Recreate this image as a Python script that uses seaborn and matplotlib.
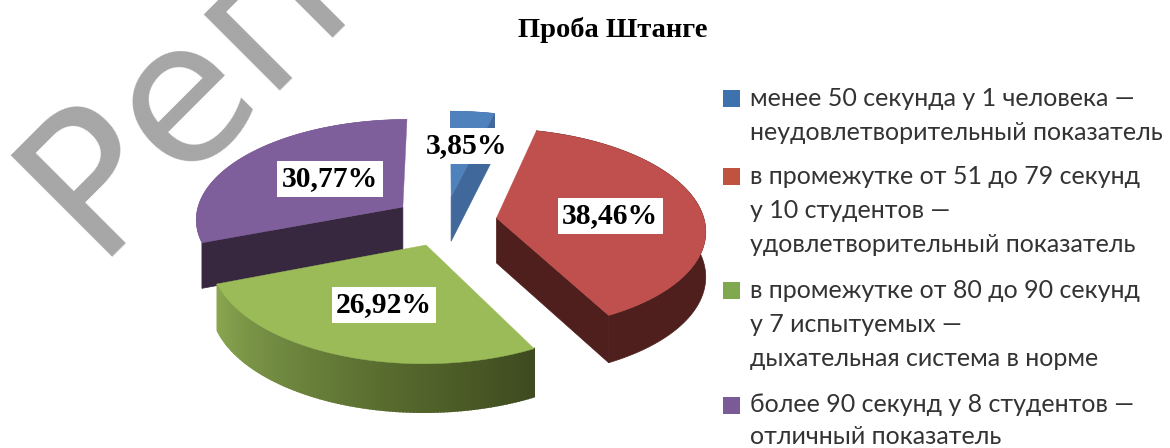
import numpy as np
import matplotlib
matplotlib.use("Agg")
import matplotlib.pyplot as plt
from matplotlib.patches import Rectangle
import seaborn as sns

# Values
title = "Проба Штанге"
shares = [3.85, 38.46, 26.92, 30.77]
explode = [0.25, 0.25, 0.25, 0.25]
top_colors = ["#4f81bd", "#c0504d", "#9bbb59", "#7f5f9b"]
cut_colors = ["#41689a", "#4e1f1d", "#3e4a20", "#372840"]
wall_colors = [["#41689a"], ["#4e1f1d"], ["#8ba750", "#6f8840", "#55672c", "#3d4a1f"], ["#7a5d96"]]
swatch_colors = ["#3d72ae", "#c0533f", "#7fa84f", "#7a5a97"]
legend_lines = [
    ["менее 50 секунда у 1 человека —", "неудовлетворительный показатель"],
    ["в промежутке от 51 до 79 секунд", "у 10 студентов —", "удовлетворительный показатель"],
    ["в промежутке от 80 до 90 секунд", "у 7 испытуемых —", "дыхательная система в норме"],
    ["более 90 секунд у 8 студентов —", "отличный показатель"],
]
watermark = "Репозиторий"

sns.set_style("white")
plt.rcParams["font.family"] = ["Lato", "Open Sans", "DejaVu Sans"]

fig = plt.figure(figsize=(11.7, 4.48), dpi=100)
ax = fig.add_axes([0, 0, 1, 1])
wedges, _ = ax.pie(shares, explode=explode, startangle=90, counterclock=False, radius=1)

# pie gives the wedge geometry, the tilted view is projected from it
ax.set_aspect("auto")
ax.set_xlim(0, 1170)
ax.set_ylim(448, 0)
ax.set_axis_off()


def project(x, y):
    w = 1 + 0.11 * y
    return 445 + 208 * x / w, 221 - 100 * y / w, 45 / np.sqrt(w)


def arc(wedge):
    t = np.radians(np.linspace(wedge.theta1, wedge.theta2, 120))
    return wedge.center[0] + wedge.r * np.cos(t), wedge.center[1] + wedge.r * np.sin(t)


order = [0, 3, 1, 2]
for i in order:
    wedge = wedges[i]
    wedge.remove()
    arc_x, arc_y = arc(wedge)
    px, py, depth = project(arc_x, arc_y)
    qx, qy, qd = project(np.array([wedge.center[0]]), np.array([wedge.center[1]]))

    # outer wall, shaded along the arc
    if len(wall_colors[i]) > 1:
        shades = sns.blend_palette(wall_colors[i], n_colors=len(px))
        for k in range(len(px) - 1):
            ax.fill([px[k], px[k + 1], px[k + 1], px[k]],
                    [py[k], py[k + 1], py[k + 1] + depth[k + 1], py[k] + depth[k]],
                    color=shades[k], lw=1.2)
    elif i == 3:
        # purple only shows a thin strip down to its corner
        ax.fill(np.r_[px, px[-1]], np.r_[py, py[-1] + depth[-1]], color=wall_colors[i][0], lw=0.5)
    else:
        ax.fill(np.r_[px, px[::-1]], np.r_[py, (py + depth)[::-1]], color=wall_colors[i][0], lw=0.5)

    # cut faces, only the ones turned to the viewer
    for k, normal in ((0, wedge.theta1 - 90), (-1, wedge.theta2 + 90)):
        if np.sin(np.radians(normal)) < -0.01:
            ax.fill([qx[0], px[k], px[k], qx[0]],
                    [qy[0], py[k], py[k] + depth[k], qy[0] + qd[0]],
                    color=cut_colors[i], lw=0.5)

    # top face
    ax.fill(np.r_[qx, px], np.r_[qy, py], color=top_colors[i], lw=0.3)

# value labels
label_xy = [(467, 146), (610, 216), (384, 305), (330, 179)]
for v, (x, y) in zip(shares, label_xy):
    ax.text(x, y, f"{v:.2f}".replace(".", ",") + "%", ha="center", va="center",
            family="Liberation Serif", weight="bold", fontsize=21.3, color="black",
            bbox=dict(boxstyle="square,pad=0.15", fc="white", ec="none"), zorder=5)

ax.text(612.5, 30, title, ha="center", va="center", family="Liberation Serif",
        weight="bold", fontsize=20.5, color="black")

# legend, line by line
line_y = [[98, 133], [176, 210, 245], [290, 324, 358], [405, 437]]
for color, lines, ys in zip(swatch_colors, legend_lines, line_y):
    ax.add_patch(Rectangle((723, ys[0] - 8), 17, 17, fc=color, ec="none"))
    for text, y in zip(lines, ys):
        ax.text(750, y, text, ha="left", va="center", fontsize=18, color="#333333")

# watermark runs off the top edge
ax.text(94, 257, watermark, rotation=45, rotation_mode="anchor", ha="left", va="baseline",
        family="DejaVu Sans", fontsize=141, color="#a6a6a6", zorder=0)

fig.savefig("out.png", dpi=100)
